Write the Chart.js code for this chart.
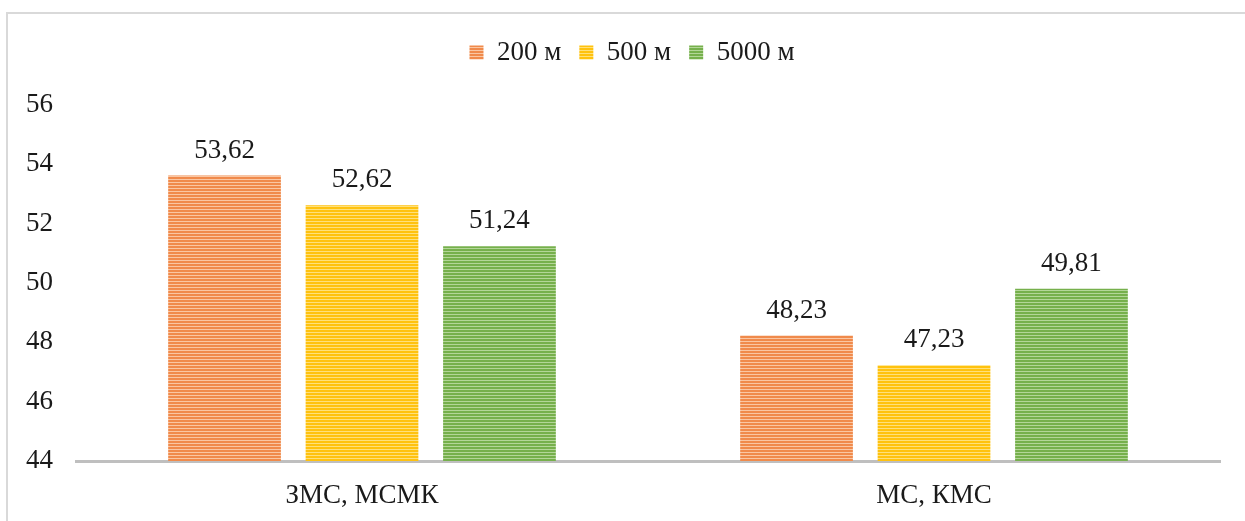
<!DOCTYPE html>
<html>
<head>
    <title>Results by distance</title>
    <script src="https://cdn.jsdelivr.net/npm/chart.js"></script>
    <style type="text/css">
        body { margin: 0; background: #fff; }
        #frame {
            position: absolute;
            left: 6px;
            top: 12px;
            width: 1300px;
            height: 600px;
            border-top: 2px solid #d9d9d9;
            border-left: 2px solid #d9d9d9;
        }
        #wrap {
            position: absolute;
            left: 0;
            top: 0;
            width: 1245px;
            height: 521px;
        }
    </style>
</head>
<body>
    <div id="frame"></div>
    <div id="wrap"><canvas id="chart"></canvas></div>

    <script type="text/javascript">
        // data
        const categories = ['ЗМС, МСМК', 'МС, КМС'];
        const seriesNames = ['200 м', '500 м', '5000 м'];
        const values200 = [53.62, 48.23];
        const values500 = [52.62, 47.23];
        const values5000 = [51.24, 49.81];
        const yTicks = [44, 46, 48, 50, 52, 54, 56];

        const FONT = "'Liberation Serif', 'Times New Roman', serif";

        // horizontal stripes like the office fill
        function stripes(base, light) {
            const c = document.createElement('canvas');
            c.width = 4;
            c.height = 3;
            const g = c.getContext('2d');
            g.fillStyle = base;
            g.fillRect(0, 0, 4, 3);
            g.fillStyle = light;
            g.fillRect(0, 2, 4, 1);
            return g.createPattern(c, 'repeat');
        }

        const orange = stripes('#f08a4b', '#fac6a2');
        const yellow = stripes('#ffc20e', '#ffe07a');
        const green = stripes('#76b04c', '#b3d698');

        // values above the bars, decimal comma
        const barLabels = {
            id: 'barLabels',
            afterDatasetsDraw(chart) {
                const ctx = chart.ctx;
                ctx.save();
                ctx.font = '27px ' + FONT;
                ctx.fillStyle = '#1a1a1a';
                ctx.textAlign = 'center';
                ctx.textBaseline = 'alphabetic';
                chart.data.datasets.forEach((ds, i) => {
                    chart.getDatasetMeta(i).data.forEach((bar, j) => {
                        const txt = ds.data[j].toFixed(2).replace('.', ',');
                        ctx.fillText(txt, bar.x, bar.y - 18);
                    });
                });
                ctx.restore();
            }
        };

        // fixed legend height so the plot starts where the original does,
        // and nudge the legend a little to the right like the original
        const legendHeight = {
            id: 'legendHeight',
            beforeLayout(chart) {
                const lg = chart.legend;
                if (lg && !lg._patched) {
                    const orig = lg.fit;
                    lg.fit = function () {
                        orig.call(this);
                        this.height = 84;
                    };
                    lg._patched = true;
                }
            },
            afterLayout(chart) {
                chart.legend.left += 44;
            }
        };

        new Chart(document.getElementById('chart'), {
            type: 'bar',
            data: {
                labels: categories,
                datasets: [
                    { label: seriesNames[0], data: values200, backgroundColor: orange },
                    { label: seriesNames[1], data: values500, backgroundColor: yellow },
                    { label: seriesNames[2], data: values5000, backgroundColor: green }
                ]
            },
            options: {
                responsive: true,
                maintainAspectRatio: false,
                animation: false,
                datasets: {
                    bar: { categoryPercentage: 0.721, barPercentage: 0.82 }
                },
                layout: { padding: { top: 21, left: 0, right: 25, bottom: 0 } },
                plugins: {
                    legend: {
                        position: 'top',
                        labels: {
                            boxWidth: 14,
                            boxHeight: 14,
                            padding: 18,
                            color: '#1a1a1a',
                            font: { family: FONT, size: 27 }
                        }
                    },
                    tooltip: { enabled: false }
                },
                scales: {
                    x: {
                        z: 1,
                        grid: { display: false, drawTicks: false },
                        border: { display: true, color: '#bfbfbf', width: 3 },
                        ticks: {
                            padding: 19,
                            color: '#1a1a1a',
                            font: { family: FONT, size: 27 }
                        },
                        afterFit(scale) { scale.height = 60; }
                    },
                    y: {
                        min: yTicks[0],
                        max: yTicks[yTicks.length - 1],
                        grid: { display: false, drawTicks: false },
                        border: { display: false },
                        afterBuildTicks(scale) {
                            scale.ticks = yTicks.map(v => ({ value: v }));
                        },
                        ticks: {
                            padding: 23,
                            color: '#1a1a1a',
                            font: { family: FONT, size: 27 }
                        },
                        afterFit(scale) { scale.width = 76; }
                    }
                }
            },
            plugins: [barLabels, legendHeight]
        });
    </script>
</body>
</html>
